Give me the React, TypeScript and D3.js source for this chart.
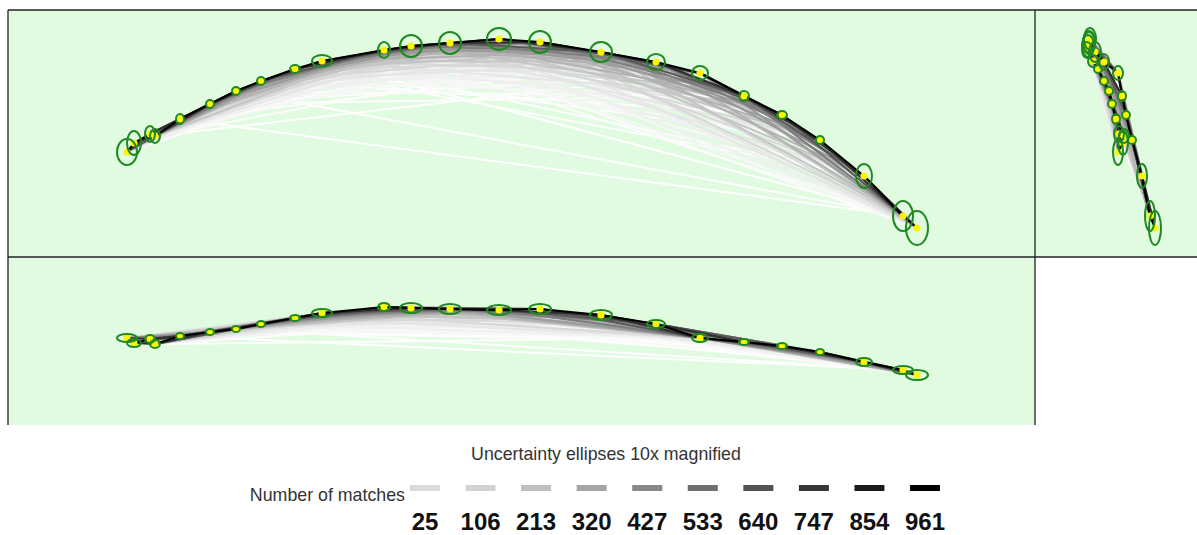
import React from 'react';
import * as d3 from 'd3';

// camera stations (arbitrary metric units)
const camE = [119, 126, 142, 147, 172, 202, 228, 253, 287, 314, 376, 403, 442, 491, 532, 593, 648, 692, 736, 774, 812, 856, 895, 909];
const camN = [105, 114, 123, 121, 138, 153, 166, 176, 188, 196, 207, 211, 214, 218, 215, 205, 195, 184, 161, 142, 117, 81, 41, 29];
const camH = [87, 82, 86, 81, 89, 93, 96, 101, 107, 112, 118, 117, 116, 115, 116, 110, 101, 87, 83, 79, 73, 63, 55, 50];

// uncertainty (already 10x magnified)
const sigE = [10, 7, 5, 5, 4, 4, 4, 4, 5, 10, 6, 11, 11, 12, 11, 11, 9, 8, 5, 5, 4, 8, 10, 11];
const sigN = [13, 12, 8, 7, 5, 4, 4, 4, 4, 6, 8, 11, 11, 11, 11, 10, 8, 7, 5, 4, 4, 12, 15, 17];
const sigH = [4, 4, 4, 4, 3, 3, 3, 3, 3, 4, 4, 5, 5, 5, 5, 5, 4, 4, 3, 3, 3, 4, 4, 5];

// typical number of matches vs. station separation (1 = neighbours)
const matchesByGap = [961, 780, 620, 480, 370, 280, 210, 150, 105, 72, 50, 36];

// a few long-range matches (station a, station b, matches)
const longA = [4, 6, 8, 5, 7, 9, 3, 10];
const longB = [22, 22, 21, 18, 19, 22, 17, 21];
const longN = [25, 27, 30, 30, 28, 26, 26, 32];

const legendValues = [25, 106, 213, 320, 427, 533, 640, 747, 854, 961];

const W = 1197;
const H = 535;
const BG = '#e0fbe0';

const top = { x: 8, y: 10, w: 1027, h: 247 };
const side = { x: 1035, y: 10, w: 162, h: 247 };
const bottom = { x: 8, y: 257, w: 1027, h: 168 };

const eScale = d3.scaleLinear().domain([0, 1027]).range([0, 1027]);
const nScale = d3.scaleLinear().domain([0, 247]).range([247, 0]);
const hScale = d3.scaleLinear().domain([0, 168]).range([168, 0]);
const hSideScale = d3.scaleLinear().domain([170, 8]).range([0, 162]);

const lineShade = d3.scaleLinear<string>().domain([25, 213, 961]).range(['#ffffff', '#c4c4c4', '#000000']);
const legendShade = d3.scaleLinear<string>().domain([25, 106, 213, 961]).range(['#dadada', '#d2d2d2', '#c0c0c0', '#000000']);

type Pair = { a: number; b: number; n: number };
const pairs: Pair[] = [];
camE.forEach((_, i) => {
  matchesByGap.forEach((n, g) => {
    const j = i + g + 1;
    if (j < camE.length) pairs.push({ a: i, b: j, n });
  });
});
longA.forEach((a, k) => pairs.push({ a, b: longB[k], n: longN[k] }));
pairs.sort((p, q) => p.n - q.n);

type View = {
  px: (i: number) => number;
  py: (i: number) => number;
  rx: (i: number) => number;
  ry: (i: number) => number;
};

const views: Record<string, View> = {
  top: { px: i => eScale(camE[i]), py: i => nScale(camN[i]), rx: i => sigE[i], ry: i => sigN[i] },
  side: { px: i => hSideScale(camH[i]), py: i => nScale(camN[i]), rx: i => sigH[i] + 1, ry: i => sigN[i] },
  bottom: { px: i => eScale(camE[i]), py: i => hScale(camH[i]), rx: i => sigE[i], ry: i => sigH[i] },
};

function Panel({ id, box, view }: { id: string; box: typeof top; view: View }) {
  return (
    <g transform={`translate(${box.x},${box.y})`}>
      <defs>
        <clipPath id={`clip-${id}`}>
          <rect width={box.w} height={box.h} />
        </clipPath>
      </defs>
      <rect width={box.w} height={box.h} fill={BG} />
      <g clipPath={`url(#clip-${id})`}>
        {pairs.map((p, k) => (
          <line
            key={k}
            x1={view.px(p.a)}
            y1={view.py(p.a)}
            x2={view.px(p.b)}
            y2={view.py(p.b)}
            stroke={lineShade(p.n)}
            strokeWidth={2}
            strokeLinecap="round"
          />
        ))}
        {camE.map((_, i) => (
          <circle key={`d${i}`} cx={view.px(i)} cy={view.py(i)} r={3.6} fill="#f7f700" />
        ))}
        {camE.map((_, i) => (
          <ellipse
            key={`e${i}`}
            cx={view.px(i)}
            cy={view.py(i)}
            rx={view.rx(i)}
            ry={view.ry(i)}
            fill="none"
            stroke="#1f8a1f"
            strokeWidth={2}
          />
        ))}
      </g>
    </g>
  );
}

export default function App() {
  const swatchX = d3.scalePoint<number>().domain(legendValues).range([425, 925]);
  return (
    <div style={{ position: 'absolute', left: 0, top: 0 }}>
      <svg width={W} height={H} style={{ display: 'block', fontFamily: 'Liberation Sans, Arial, sans-serif' }}>
        <rect width={W} height={H} fill="#ffffff" />
        <Panel id="top" box={top} view={views.top} />
        <Panel id="side" box={side} view={views.side} />
        <Panel id="bottom" box={bottom} view={views.bottom} />

        {/* frame lines */}
        <g stroke="#222" strokeWidth={1.3} fill="none">
          <line x1={top.x} y1={top.y} x2={W} y2={top.y} />
          <line x1={top.x} y1={top.y} x2={top.x} y2={bottom.y + bottom.h} />
          <line x1={side.x} y1={top.y} x2={side.x} y2={bottom.y + bottom.h} />
          <line x1={top.x} y1={bottom.y} x2={W} y2={bottom.y} />
        </g>

        <text x={606} y={460} textAnchor="middle" fontSize={17.8} fill="#333">
          Uncertainty ellipses 10x magnified
        </text>
        <text x={405} y={501} textAnchor="end" fontSize={17.8} fill="#333">
          Number of matches
        </text>
        {legendValues.map(v => (
          <g key={v}>
            <rect x={swatchX(v)! - 15} y={485} width={30} height={6} fill={legendShade(v)} />
            <text x={swatchX(v)} y={530} textAnchor="middle" fontSize={24} fontWeight="bold" fill="#111">
              {v}
            </text>
          </g>
        ))}
      </svg>
    </div>
  );
}
